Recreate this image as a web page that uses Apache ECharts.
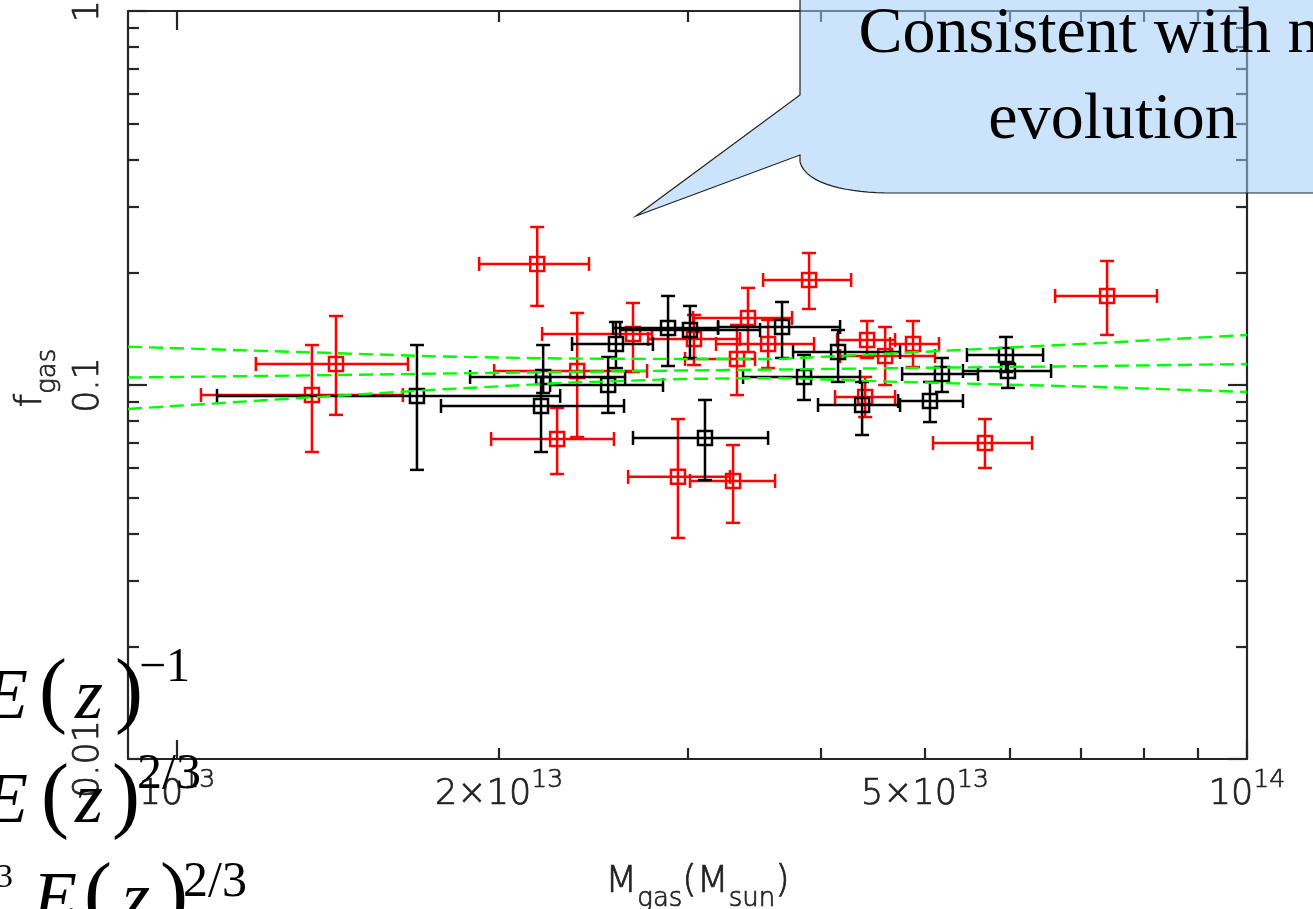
<!DOCTYPE html>
<html>
<head>
<meta charset="utf-8">
<script src="https://cdn.jsdelivr.net/npm/echarts@6/dist/echarts.min.js"></script>
<style>
  html, body { margin: 0; padding: 0; background: #ffffff; }
  #chart { width: 1313px; height: 909px; }
</style>
</head>
<body>
<div id="chart"></div>
<script>
// Gas fraction versus gas mass for two cluster samples (masses in units of 1e13 M_sun).
const MASS_UNIT = 1e13;

// Red sample
const redMass   = [1.337, 1.408, 2.171, 2.266, 2.366, 2.668, 2.939, 3.309, 3.897, 3.417, 3.337, 3.568, 4.415, 4.590, 4.874, 4.397, 5.690, 7.400, 3.042];
const redMassLo = [1.053, 1.185, 1.916, 1.966, 1.979, 2.194, 2.640, 3.016, 3.530, 3.036, 2.984, 3.190, 4.139, 4.166, 4.639, 4.121, 5.088, 6.617, 2.756];
const redMassHi = [1.626, 1.644, 2.427, 2.561, 2.750, 2.779, 3.287, 3.622, 4.266, 3.757, 3.469, 3.939, 4.689, 5.110, 5.154, 4.689, 6.297, 8.239, 3.359];
const redFgas   = [0.0940, 0.1138, 0.2107, 0.0717, 0.1090, 0.1369, 0.0568, 0.0554, 0.1909, 0.1511, 0.1174, 0.1287, 0.1319, 0.1195, 0.1287, 0.0929, 0.0700, 0.1730, 0.1327];
const redFgasLo = [0.0662, 0.0832, 0.1627, 0.0578, 0.0726, 0.1083, 0.0390, 0.0428, 0.1597, 0.1225, 0.0940, 0.1110, 0.1181, 0.1000, 0.1117, 0.0821, 0.0600, 0.1361, 0.1131];
const redFgasHi = [0.1279, 0.1529, 0.2645, 0.0868, 0.1558, 0.1657, 0.0811, 0.0691, 0.2254, 0.1818, 0.1447, 0.1492, 0.1483, 0.1429, 0.1483, 0.1051, 0.0811, 0.2146, 0.1539];

// Black sample
const blackMass   = [1.676, 2.189, 2.199, 2.529, 2.572, 2.877, 3.016, 3.677, 3.855, 4.148, 4.368, 5.055, 5.187, 5.953, 5.979, 3.115];
const blackMassLo = [1.090, 1.765, 1.879, 2.232, 2.340, 2.556, 2.595, 3.204, 3.381, 3.765, 3.973, 4.720, 4.761, 5.474, 5.427, 2.668];
const blackMassHi = [2.281, 2.617, 2.623, 2.846, 2.785, 3.204, 3.507, 4.166, 4.349, 4.740, 4.740, 5.427, 5.606, 6.448, 6.560, 3.568];
const blackFgas   = [0.0935, 0.0879, 0.1051, 0.1000, 0.1287, 0.1421, 0.1403, 0.1429, 0.1051, 0.1225, 0.0884, 0.0906, 0.1070, 0.1203, 0.1090, 0.0722];
const blackFgasLo = [0.0593, 0.0662, 0.0952, 0.0842, 0.1110, 0.1124, 0.1181, 0.1181, 0.0912, 0.1019, 0.0735, 0.0796, 0.0958, 0.1083, 0.0982, 0.0557];
const blackFgasHi = [0.1279, 0.1051, 0.1279, 0.1188, 0.1474, 0.1730, 0.1627, 0.1667, 0.1203, 0.1403, 0.1019, 0.1019, 0.1181, 0.1344, 0.1145, 0.0912];

// Best-fit relation and its 1-sigma envelope
const fitMass  = [0.9, 1.303, 1.761, 2.281, 2.952, 3.661, 4.740, 7.290, 10.0];
const fitUpper = [0.1266, 0.1225, 0.1192, 0.1177, 0.1174, 0.1174, 0.1218, 0.1295, 0.1361];
const fitBest  = [0.1047, 0.1060, 0.1073, 0.1083, 0.1093, 0.1100, 0.1110, 0.1124, 0.1138];
const fitLower = [0.0863, 0.0923, 0.0973, 0.1012, 0.1038, 0.1044, 0.1019, 0.0988, 0.0958];

// Axis ticks and labels
const xRange = [9e12, 1e14];
const yRange = [0.01, 1];
const xMajorTicks = [1e13, 1e14];
const xMinorTicks = [2e13, 3e13, 4e13, 5e13, 6e13, 7e13, 8e13, 9e13];
const xLabelValues = [1e13, 2e13, 5e13, 1e14];
const xLabelMantissa = ['', '2×', '5×', ''];
const xLabelExponent = ['13', '13', '13', '14'];
const yMajorTicks = [0.01, 0.1, 1];
const yMinorTicks = [0.02, 0.03, 0.04, 0.05, 0.06, 0.07, 0.08, 0.09, 0.2, 0.3, 0.4, 0.5, 0.6, 0.7, 0.8, 0.9];
const yLabels = ['0.01', '0.1', '1'];

const lg = Math.log10;
const AXIS_COLOR = '#262626';
const LABEL_COLOR = '#222222';
const LABEL_FONT = '"DejaVu Sans", sans-serif';
const SERIF = '"Liberation Serif", "Times New Roman", serif';

function sampleData(mass, massLo, massHi, f, fLo, fHi) {
  return mass.map((m, i) => [
    lg(m * MASS_UNIT), lg(f[i]),
    lg(massLo[i] * MASS_UNIT), lg(massHi[i] * MASS_UNIT),
    lg(fLo[i]), lg(fHi[i])
  ]);
}

function lineData(mass, f) {
  return mass.map((m, i) => [lg(m * MASS_UNIT), lg(f[i])]);
}

// Square marker with horizontal and vertical capped error bars
function errorBarRenderer(color) {
  return function (params, api) {
    const xv = api.value(0), yv = api.value(1);
    const c = api.coord([xv, yv]);
    const xl = api.coord([api.value(2), yv])[0];
    const xh = api.coord([api.value(3), yv])[0];
    const yl = api.coord([xv, api.value(4)])[1];
    const yh = api.coord([xv, api.value(5)])[1];
    const cap = 7, half = 7;
    const style = { stroke: color, lineWidth: 2.5, fill: 'none' };
    const seg = (x1, y1, x2, y2) => ({ type: 'line', shape: { x1, y1, x2, y2 }, style });
    return {
      type: 'group',
      children: [
        seg(xl, c[1], xh, c[1]),
        seg(xl, c[1] - cap, xl, c[1] + cap),
        seg(xh, c[1] - cap, xh, c[1] + cap),
        seg(c[0], yl, c[0], yh),
        seg(c[0] - cap, yl, c[0] + cap, yl),
        seg(c[0] - cap, yh, c[0] + cap, yh),
        { type: 'rect', shape: { x: c[0] - half, y: c[1] - half, width: 2 * half, height: 2 * half }, style }
      ]
    };
  };
}

function xLabelFormatter(v) {
  const i = xLabelValues.findIndex(t => Math.abs(lg(t) - v) < 1e-6);
  return i < 0 ? '' : xLabelMantissa[i] + '10{sup|' + xLabelExponent[i] + '}';
}
function yLabelFormatter(v) {
  const i = yMajorTicks.findIndex(t => Math.abs(lg(t) - v) < 1e-6);
  return i < 0 ? '' : yLabels[i];
}

function axisLineStyle() { return { color: AXIS_COLOR, width: 2.2 }; }
function labelText(size, extra) {
  return Object.assign({
    fontSize: size, fontFamily: LABEL_FONT, fontWeight: 200, color: LABEL_COLOR,
    textBorderColor: LABEL_COLOR, textBorderWidth: 0.7
  }, extra || {});
}

function xAxisDef(position, ticks, len, withLine, withLabels) {
  const ax = {
    type: 'value', position, min: lg(xRange[0]), max: lg(xRange[1]),
    axisLine: { show: withLine, onZero: false, lineStyle: axisLineStyle() },
    axisTick: { show: true, inside: true, length: len, customValues: ticks.map(lg), lineStyle: axisLineStyle() },
    axisLabel: { show: false },
    splitLine: { show: false }
  };
  if (withLabels) {
    ax.axisLabel = labelText(35, {
      show: true, customValues: xLabelValues.map(lg), formatter: xLabelFormatter,
      margin: 9, lineHeight: 54,
      rich: { sup: labelText(25, { lineHeight: 24, verticalAlign: 'top' }) }
    });
    ax.name = 'M{sub|gas}(M{sub|sun})';
    ax.nameLocation = 'middle';
    ax.nameGap = 93;
    ax.nameTextStyle = labelText(37, {
      lineHeight: 60, padding: [0, 0, 0, 20],
      rich: { sub: labelText(26, { lineHeight: 24, verticalAlign: 'bottom' }) }
    });
  }
  return ax;
}

function yAxisDef(position, ticks, len, withLine, withLabels) {
  const ax = {
    type: 'value', position, min: lg(yRange[0]), max: lg(yRange[1]),
    axisLine: { show: withLine, onZero: false, lineStyle: axisLineStyle() },
    axisTick: { show: true, inside: true, length: len, customValues: ticks.map(lg), lineStyle: axisLineStyle() },
    axisLabel: { show: false },
    splitLine: { show: false }
  };
  if (withLabels) {
    ax.axisLabel = labelText(35, {
      show: true, customValues: yMajorTicks.map(lg), formatter: yLabelFormatter, rotate: 90,
      margin: 22, lineHeight: 35
    });
    ax.name = 'f{sub|gas}';
    ax.nameLocation = 'middle';
    ax.nameRotate = 90;
    ax.nameGap = 67;
    ax.nameTextStyle = labelText(38, {
      lineHeight: 60, padding: [0, 0, 0, 14],
      rich: { sub: labelText(26, { lineHeight: 24, verticalAlign: 'bottom' }) }
    });
  }
  return ax;
}

// Overlaid slide annotations
function serifText(str, x, baseline, size, italic) {
  return {
    type: 'text', z: 100, x, y: baseline - 0.3375 * size, silent: true,
    style: { text: str, fill: '#000000', font: (italic ? 'italic ' : '') + size + 'px ' + SERIF, align: 'left', verticalAlign: 'middle' }
  };
}

// Callout outline: box with a rounded lower-left corner and a pointer
function calloutOutline() {
  const pts = [[800, -5], [1330, -5], [1330, 193], [892, 193]];
  const p0 = [892, 193], p1 = [850, 193], p2 = [806, 185], p3 = [800, 162];
  for (let k = 1; k <= 16; k++) {
    const t = k / 16, u = 1 - t;
    pts.push([
      u * u * u * p0[0] + 3 * u * u * t * p1[0] + 3 * u * t * t * p2[0] + t * t * t * p3[0],
      u * u * u * p0[1] + 3 * u * u * t * p1[1] + 3 * u * t * t * p2[1] + t * t * t * p3[1]
    ]);
  }
  pts.push([800, 155], [636, 216], [800, 95]);
  return pts;
}

const calloutLines = ['Consistent with no', 'evolution'];

const graphicElements = [
  {
    type: 'polygon', z: 90, silent: true,
    shape: { points: calloutOutline() },
    style: { fill: 'rgba(160, 205, 250, 0.55)', stroke: '#222222', lineWidth: 1.2 }
  },
  { type: 'text', z: 100, x: 1106, y: 57 - 0.3375 * 66, silent: true,
    style: { text: calloutLines[0], fill: '#000', font: '66px ' + SERIF, align: 'center', verticalAlign: 'middle' } },
  { type: 'text', z: 100, x: 1113, y: 143 - 0.3375 * 66, silent: true,
    style: { text: calloutLines[1], fill: '#000', font: '66px ' + SERIF, align: 'center', verticalAlign: 'middle' } },

  serifText('E', -16, 723, 72, true),
  serifText('(', 39, 723, 84, false),
  serifText('z', 75, 723, 72, true),
  serifText(')', 115, 723, 84, false),
  serifText('\u22121', 139, 685, 48, false),

  serifText('E', -16, 827, 72, true),
  serifText('(', 41, 828, 84, false),
  serifText('z', 75, 827, 72, true),
  serifText(')', 112, 828, 84, false),
  serifText('2/3', 137, 792, 50, false),

  serifText('3', -4, 890, 34, false),
  serifText('E', 33, 926, 72, true),
  serifText('(', 84, 927, 84, false),
  serifText('z', 122, 926, 72, true),
  serifText(')', 160, 927, 84, false),
  serifText('2/3', 183, 900, 50, false)
];

const chart = echarts.init(document.getElementById('chart'), null, { renderer: 'canvas' });
chart.setOption({
  animation: false,
  backgroundColor: '#ffffff',
  grid: { left: 128, right: 66, top: 11, bottom: 150, containLabel: false, outerBoundsMode: 'none' },
  xAxis: [
    xAxisDef('bottom', xMajorTicks, 19, true, true),
    xAxisDef('bottom', xMinorTicks, 11, false, false),
    xAxisDef('top', xMajorTicks, 19, true, false),
    xAxisDef('top', xMinorTicks, 11, false, false)
  ],
  yAxis: [
    yAxisDef('left', yMajorTicks, 19, true, true),
    yAxisDef('left', yMinorTicks, 11, false, false),
    yAxisDef('right', yMajorTicks, 19, true, false),
    yAxisDef('right', yMinorTicks, 11, false, false)
  ],
  series: [
    {
      type: 'custom', name: 'red', xAxisIndex: 0, yAxisIndex: 0, z: 2, silent: true,
      renderItem: errorBarRenderer('#ff0000'),
      data: sampleData(redMass, redMassLo, redMassHi, redFgas, redFgasLo, redFgasHi)
    },
    {
      type: 'custom', name: 'black', xAxisIndex: 0, yAxisIndex: 0, z: 3, silent: true,
      renderItem: errorBarRenderer('#000000'),
      data: sampleData(blackMass, blackMassLo, blackMassHi, blackFgas, blackFgasLo, blackFgasHi)
    },
    ...[fitUpper, fitBest, fitLower].map(f => ({
      type: 'line', xAxisIndex: 0, yAxisIndex: 0, z: 4, silent: true, symbol: 'none',
      lineStyle: { color: '#00ff00', width: 2.4, type: [14, 7] },
      data: lineData(fitMass, f)
    }))
  ],
  graphic: { elements: graphicElements }
});
</script>
</body>
</html>
